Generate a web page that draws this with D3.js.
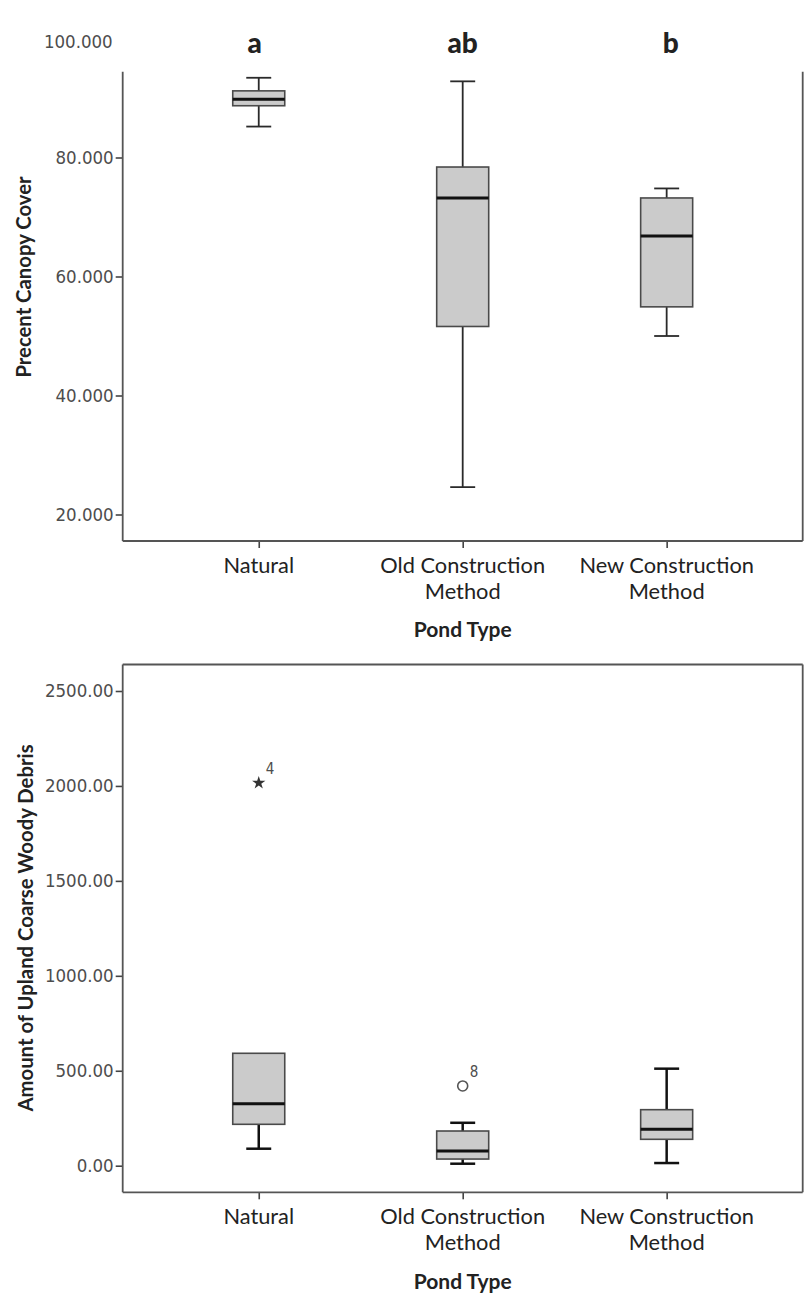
<!DOCTYPE html>
<html>
<head>
<meta charset="utf-8">
<script src="https://cdn.jsdelivr.net/npm/d3@7"></script>
<style>
  body { margin: 0; background: #fff; }
  svg { display: block; }
  .num { font-family: "DejaVu Sans Condensed", "DejaVu Sans", sans-serif; font-stretch: condensed; fill: #4d4d4d; }
  .lab { font-family: Lato, "Open Sans", sans-serif; fill: #222; }
</style>
</head>
<body>
<div id="chart"></div>
<script>
// categories shared by both panels
var categories = ["Natural", "Old Construction Method", "New Construction Method"];
var tickLines = [["Natural"], ["Old Construction", "Method"], ["New Construction", "Method"]];

// panel 1: percent canopy cover
var canopyWhiskerLow = [85.2, 24.6, 50.0];
var canopyQ1 = [88.7, 51.6, 54.9];
var canopyMedian = [89.8, 73.2, 66.8];
var canopyQ3 = [91.2, 78.4, 73.2];
var canopyWhiskerHigh = [93.4, 92.8, 74.8];
var canopyTicks = [20, 40, 60, 80];
var canopyTopLabel = 100;
var groupLetters = ["a", "ab", "b"];

// panel 2: upland coarse woody debris
var debrisWhiskerLow = [89.5, 10.5, 14];
var debrisQ1 = [218, 35, 139];
var debrisMedian = [326.5, 77.4, 191.7];
var debrisQ3 = [592, 182.7, 295];
var debrisWhiskerHigh = [592, 226, 511];
var debrisTicks = [0, 500, 1000, 1500, 2000, 2500];
var outlierCategory = ["Natural", "Old Construction Method"];
var outlierValue = [2016, 420];
var outlierCase = ["4", "8"];
var outlierKind = ["extreme", "outlier"];

var W = 806, H = 1295;
var left = 122.7, right = 802.7;

var svg = d3.select("#chart").append("svg")
    .attr("width", W)
    .attr("height", H);

var x = d3.scalePoint()
    .domain(categories)
    .range([left, right])
    .padding(0.667);
var boxW = x.step() * 0.255;
var capW = boxW * 0.48;

function stats(lo, q1, med, q3, hi) {
    return categories.map(function (c, i) {
        return { cat: c, lo: lo[i], q1: q1[i], med: med[i], q3: q3[i], hi: hi[i] };
    });
}

function drawPanel(p) {
    var g = svg.append("g");
    var y = p.y;

    // y axis ticks + labels
    var yAxis = g.append("g")
        .attr("transform", "translate(" + left + ",0)")
        .call(d3.axisLeft(y).tickValues(p.ticks).tickSize(7).tickPadding(2).tickFormat(p.fmt));
    yAxis.select(".domain").remove();
    yAxis.selectAll("line").attr("stroke", "#444").attr("stroke-width", 1.6);
    yAxis.selectAll("text").attr("class", "num").attr("font-size", 18.5).attr("fill", null);

    // x axis ticks
    var xAxis = g.append("g")
        .attr("transform", "translate(0," + p.bottom + ")")
        .call(d3.axisBottom(x).tickSize(7).tickFormat(""));
    xAxis.select(".domain").remove();
    xAxis.selectAll("line").attr("stroke", "#444").attr("stroke-width", 1.6);

    // x tick labels, one text per line
    categories.forEach(function (c, i) {
        g.selectAll(null)
            .data(tickLines[i])
            .enter()
            .append("text")
            .attr("class", "lab")
            .attr("font-size", 21.8)
            .attr("text-anchor", "middle")
            .attr("x", x(c))
            .attr("y", function (d, k) { return p.bottom + 31.5 + k * 26.2; })
            .text(function (d) { return d; });
    });

    // frame
    var frame = g.append("g")
        .attr("fill", "none")
        .attr("stroke", "#555")
        .attr("stroke-width", 1.8);
    frame.append("line").attr("x1", left).attr("x2", left).attr("y1", p.top).attr("y2", p.bottom);
    frame.append("line").attr("x1", right).attr("x2", right).attr("y1", p.top).attr("y2", p.bottom);
    frame.append("line").attr("x1", left).attr("x2", right).attr("y1", p.bottom).attr("y2", p.bottom);
    if (p.topBorder) {
        frame.append("line").attr("x1", left).attr("x2", right).attr("y1", p.top).attr("y2", p.top);
    }

    // boxes
    var box = g.selectAll(".box")
        .data(p.data)
        .enter()
        .append("g")
        .attr("class", "box");

    box.append("line")
        .attr("x1", function (d) { return x(d.cat); })
        .attr("x2", function (d) { return x(d.cat); })
        .attr("y1", function (d) { return y(d.hi); })
        .attr("y2", function (d) { return y(d.lo); })
        .attr("stroke", p.whiskerColor)
        .attr("stroke-width", p.whiskerWidth);
    box.selectAll(".cap")
        .data(function (d) { return d.hi > d.q3 ? [d.hi, d.lo] : [d.lo]; })
        .enter()
        .append("line")
        .attr("x1", function () { return x(d3.select(this.parentNode).datum().cat) - capW / 2; })
        .attr("x2", function () { return x(d3.select(this.parentNode).datum().cat) + capW / 2; })
        .attr("y1", function (v) { return y(v); })
        .attr("y2", function (v) { return y(v); })
        .attr("stroke", p.whiskerColor)
        .attr("stroke-width", p.whiskerWidth);
    box.append("rect")
        .attr("x", function (d) { return x(d.cat) - boxW / 2; })
        .attr("width", boxW)
        .attr("y", function (d) { return y(d.q3); })
        .attr("height", function (d) { return y(d.q1) - y(d.q3); })
        .attr("fill", "#cbcbcb")
        .attr("stroke", "#4a4a4a")
        .attr("stroke-width", 1.6);
    box.append("line")
        .attr("x1", function (d) { return x(d.cat) - boxW / 2; })
        .attr("x2", function (d) { return x(d.cat) + boxW / 2; })
        .attr("y1", function (d) { return y(d.med); })
        .attr("y2", function (d) { return y(d.med); })
        .attr("stroke", "#111")
        .attr("stroke-width", 3);

    // y title
    g.append("text")
        .attr("class", "lab")
        .attr("font-size", 20.3)
        .attr("font-weight", "bold")
        .attr("text-anchor", "middle")
        .attr("transform", "translate(" + p.titleX + "," + p.titleY + ") rotate(-90)")
        .attr("dy", "0.35em")
        .text(p.yTitle);

    // x title
    g.append("text")
        .attr("class", "lab")
        .attr("font-size", 21)
        .attr("font-weight", "bold")
        .attr("text-anchor", "middle")
        .attr("x", x("Old Construction Method"))
        .attr("y", p.bottom + 89)
        .attr("dy", "0.35em")
        .text("Pond Type");

    return g;
}

// ---- panel 1
var y1 = d3.scaleLinear().domain([20, 80]).range([514.5, 157.5]);
var p1 = drawPanel({
    y: y1, top: 71.7, bottom: 541, topBorder: false,
    ticks: canopyTicks, fmt: d3.format(".3f"),
    data: stats(canopyWhiskerLow, canopyQ1, canopyMedian, canopyQ3, canopyWhiskerHigh),
    whiskerColor: "#2a2a2a", whiskerWidth: 1.8,
    yTitle: "Precent Canopy Cover", titleX: 24, titleY: 277
});

// the 100 label sits above the cropped frame
p1.append("text")
    .attr("class", "num")
    .attr("font-size", 18.5)
    .attr("text-anchor", "end")
    .attr("x", left - 10)
    .attr("y", y1(canopyTopLabel) + 4)
    .attr("dy", "0.32em")
    .text(d3.format(".3f")(canopyTopLabel));

// significance letters
p1.selectAll(".letter")
    .data(groupLetters)
    .enter()
    .append("text")
    .attr("class", "lab")
    .attr("font-size", 28)
    .attr("font-weight", 900)
    .attr("fill", "#000")
    .attr("text-anchor", "middle")
    .attr("x", function (d, i) { return x(categories[i]) + (i - 1) * 4; })
    .attr("y", 53)
    .text(function (d) { return d; });

// ---- panel 2
var y2 = d3.scaleLinear().domain([0, 2500]).range([1165.7, 691]);
var p2 = drawPanel({
    y: y2, top: 664.5, bottom: 1192.3, topBorder: true,
    ticks: debrisTicks, fmt: d3.format(".2f"),
    data: stats(debrisWhiskerLow, debrisQ1, debrisMedian, debrisQ3, debrisWhiskerHigh),
    whiskerColor: "#111", whiskerWidth: 2.5,
    yTitle: "Amount of Upland Coarse Woody Debris", titleX: 26, titleY: 928
});

var outliers = outlierValue.map(function (v, i) {
    return { cat: outlierCategory[i], value: v, id: outlierCase[i], kind: outlierKind[i] };
});

var og = p2.selectAll(".outlier")
    .data(outliers)
    .enter()
    .append("g")
    .attr("transform", function (d) { return "translate(" + x(d.cat) + "," + y2(d.value) + ")"; });

og.filter(function (d) { return d.kind === "extreme"; })
    .append("path")
    .attr("d", d3.symbol(d3.symbolStar).size(55))
    .attr("fill", "#333");
og.filter(function (d) { return d.kind === "outlier"; })
    .append("circle")
    .attr("r", 5)
    .attr("fill", "none")
    .attr("stroke", "#555")
    .attr("stroke-width", 1.6);
og.append("text")
    .attr("class", "num")
    .attr("font-size", 15)
    .attr("fill", "#333")
    .attr("x", 7)
    .attr("y", -9)
    .text(function (d) { return d.id; });
</script>
</body>
</html>
